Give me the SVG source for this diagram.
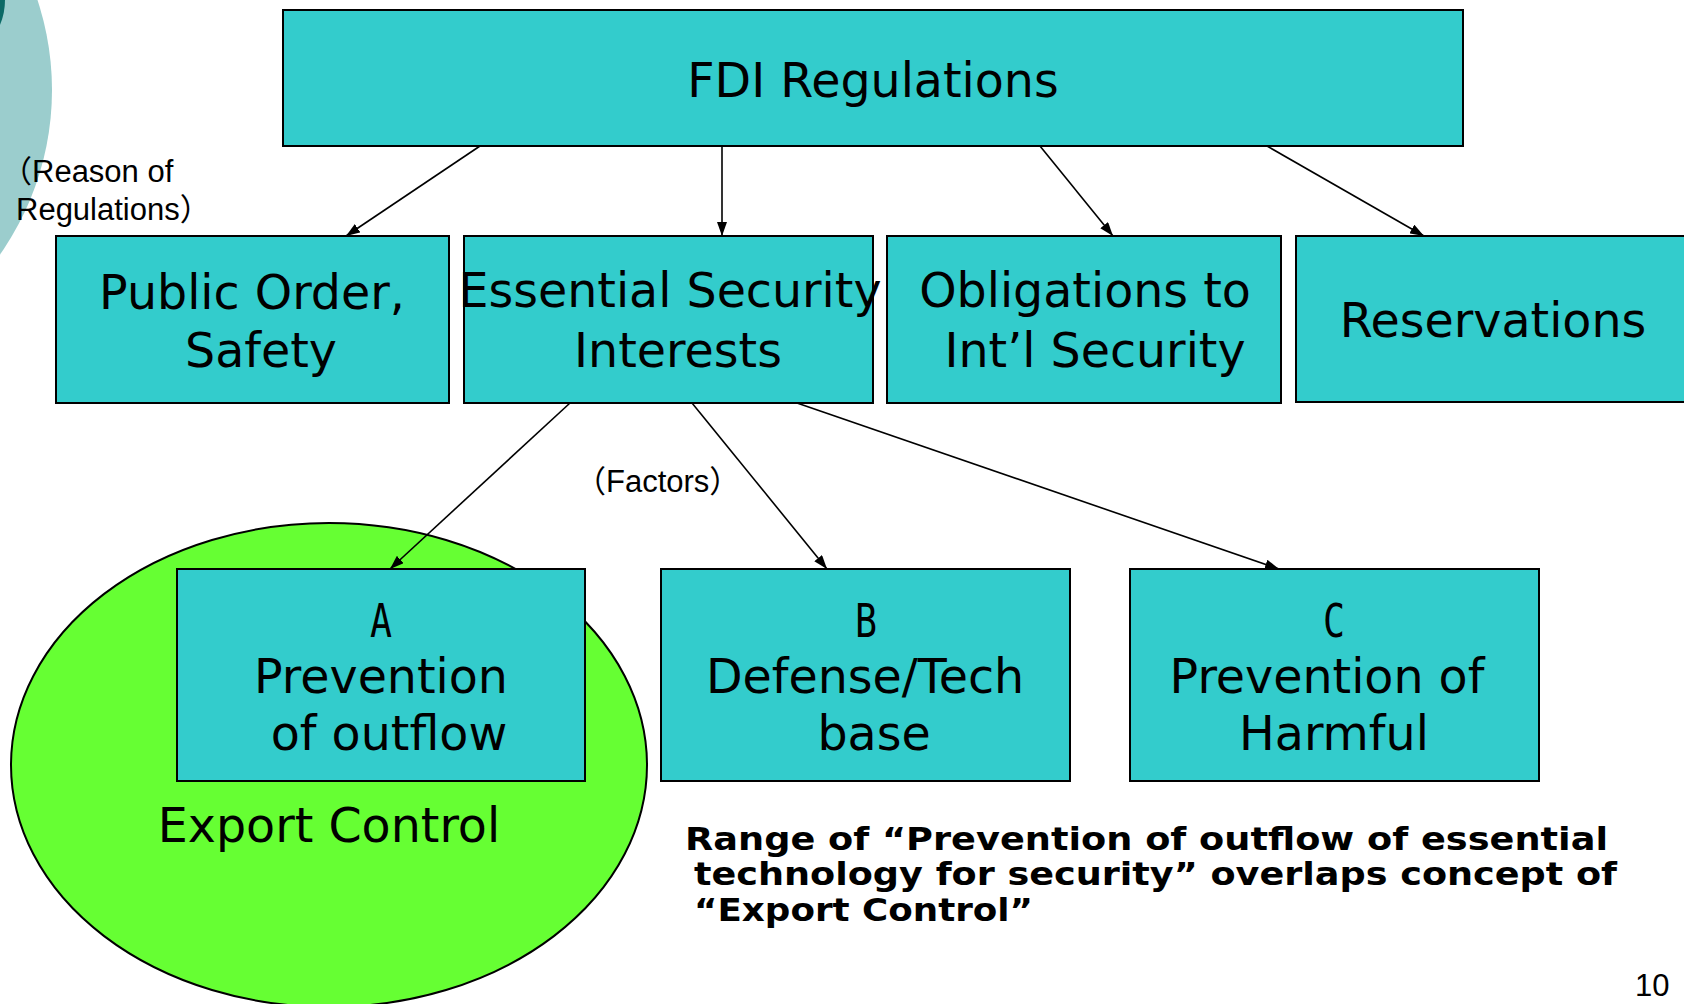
<svg xmlns="http://www.w3.org/2000/svg" width="1684" height="1004" viewBox="0 0 1684 1004">
  <defs>
    <marker id="arrow" viewBox="0 0 14 10" refX="14" refY="5" markerWidth="14" markerHeight="10" markerUnits="userSpaceOnUse" orient="auto">
      <path d="M0,0 L14,5 L0,10 Z" fill="#000"/>
    </marker>
    <style>
      .box { fill: #33CCCC; stroke: #000; stroke-width: 2; }
      .big { font-family: "DejaVu Sans", Verdana, sans-serif; font-size: 47.5px; fill: #000; text-anchor: middle; }
      .letter { font-family: "DejaVu Sans Mono", "Liberation Mono", monospace; font-size: 46px; fill: #000; text-anchor: middle; }
      .note { font-family: "Liberation Sans", "Noto Sans CJK JP", Arial, sans-serif; font-size: 31px; fill: #000; }
      .bold { font-family: "DejaVu Sans", Verdana, sans-serif; font-weight: bold; font-size: 32px; fill: #000; }
      .conn line { stroke: #000; stroke-width: 1.6; marker-end: url(#arrow); }
    </style>
  </defs>

  <rect width="1684" height="1004" fill="#FFFFFF"/>

  <!-- corner decoration -->
  <g id="corner-decoration">
    <circle cx="-234" cy="90" r="286" fill="#9BCDCD"/>
    <circle cx="-60" cy="0" r="65" fill="#0B6A66"/>
  </g>

  <!-- export control area -->
  <g id="export-control">
    <ellipse cx="329" cy="765" rx="318" ry="242" fill="#66FF33" stroke="#000" stroke-width="2"/>
    <text class="big" x="329" y="842">Export Control</text>
  </g>

  <!-- connectors -->
  <g id="connectors" class="conn">
    <line x1="480" y1="146" x2="346" y2="236"/>
    <line x1="722" y1="146" x2="722" y2="236"/>
    <line x1="1040" y1="146" x2="1113" y2="236"/>
    <line x1="1267" y1="146" x2="1424" y2="236"/>
    <line x1="570" y1="403" x2="390" y2="569"/>
    <line x1="692" y1="403" x2="827" y2="569"/>
    <line x1="797" y1="403" x2="1279" y2="569"/>
  </g>

  <g id="fdi-regulations">
    <rect class="box" x="283" y="10" width="1180" height="136"/>
    <text class="big" x="873" y="97">FDI Regulations</text>
  </g>

  <g id="public-order">
    <rect class="box" x="56" y="236" width="393" height="167"/>
    <text class="big" x="252" y="309">Public Order,</text>
    <text class="big" x="261" y="367">Safety</text>
  </g>

  <g id="essential-security">
    <rect class="box" x="464" y="236" width="409" height="167"/>
    <text class="big" x="670" y="307">Essential Security</text>
    <text class="big" x="678" y="367">Interests</text>
  </g>

  <g id="intl-security">
    <rect class="box" x="887" y="236" width="394" height="167"/>
    <text class="big" x="1085" y="307">Obligations to</text>
    <text class="big" x="1095" y="367">Int’l Security</text>
  </g>

  <g id="reservations">
    <rect class="box" x="1296" y="236" width="400" height="166"/>
    <text class="big" x="1493" y="337">Reservations</text>
  </g>

  <g id="factor-a">
    <rect class="box" x="177" y="569" width="408" height="212"/>
    <text class="letter" x="381" y="637" textLength="22" lengthAdjust="spacingAndGlyphs">A</text>
    <text class="big" x="381" y="693">Prevention</text>
    <text class="big" x="389" y="750">of outflow</text>
  </g>

  <g id="factor-b">
    <rect class="box" x="661" y="569" width="409" height="212"/>
    <text class="letter" x="866" y="637" textLength="22" lengthAdjust="spacingAndGlyphs">B</text>
    <text class="big" x="865" y="693">Defense/Tech</text>
    <text class="big" x="874" y="750">base</text>
  </g>

  <g id="factor-c">
    <rect class="box" x="1130" y="569" width="409" height="212"/>
    <text class="letter" x="1334" y="637" textLength="22" lengthAdjust="spacingAndGlyphs">C</text>
    <text class="big" x="1327" y="693">Prevention of</text>
    <text class="big" x="1334" y="750">Harmful</text>
  </g>

  <!-- side labels -->
  <g id="labels">
    <text class="note" x="1" y="182">（Reason of</text>
    <text class="note" x="16" y="220">Regulations）</text>
    <text class="note" x="575" y="492">（Factors）</text>
  </g>

  <g id="overlap-note">
    <text class="bold" x="685" y="850" textLength="923" lengthAdjust="spacingAndGlyphs">Range of “Prevention of outflow of essential</text>
    <text class="bold" x="694" y="885" textLength="923" lengthAdjust="spacingAndGlyphs">technology for security” overlaps concept of</text>
    <text class="bold" x="694" y="921" textLength="339" lengthAdjust="spacingAndGlyphs">“Export Control”</text>
  </g>

  <!-- page number -->
  <text class="note" x="1635" y="996" font-size="28">10</text>
</svg>
